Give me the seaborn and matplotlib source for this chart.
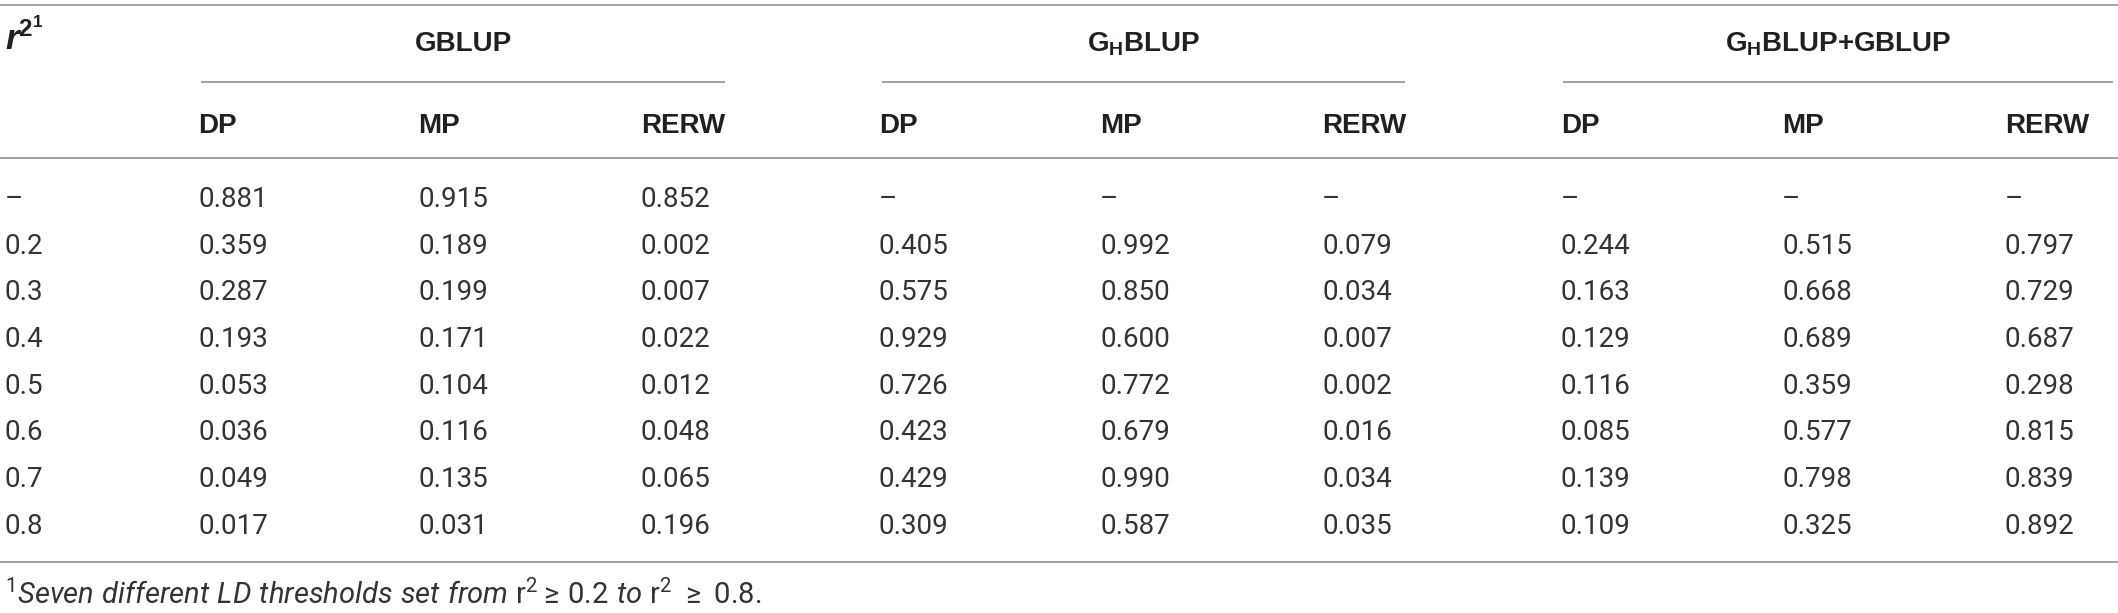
import numpy as np
import pandas as pd
import seaborn as sns
import matplotlib.pyplot as plt

# Table data: p-values per LD threshold (r^2), model and measure
thresholds = ['–', '0.2', '0.3', '0.4', '0.5', '0.6', '0.7', '0.8']
models = ['GBLUP', 'G$_\\mathbf{H}$BLUP', 'G$_\\mathbf{H}$BLUP+GBLUP']
measures = ['DP', 'MP', 'RERW']

gblup_dp = [0.881, 0.359, 0.287, 0.193, 0.053, 0.036, 0.049, 0.017]
gblup_mp = [0.915, 0.189, 0.199, 0.171, 0.104, 0.116, 0.135, 0.031]
gblup_rerw = [0.852, 0.002, 0.007, 0.022, 0.012, 0.048, 0.065, 0.196]
ghblup_dp = [np.nan, 0.405, 0.575, 0.929, 0.726, 0.423, 0.429, 0.309]
ghblup_mp = [np.nan, 0.992, 0.850, 0.600, 0.772, 0.679, 0.990, 0.587]
ghblup_rerw = [np.nan, 0.079, 0.034, 0.007, 0.002, 0.016, 0.034, 0.035]
combo_dp = [np.nan, 0.244, 0.163, 0.129, 0.116, 0.085, 0.139, 0.109]
combo_mp = [np.nan, 0.515, 0.668, 0.689, 0.359, 0.577, 0.798, 0.325]
combo_rerw = [np.nan, 0.797, 0.729, 0.687, 0.298, 0.815, 0.839, 0.892]

footnote = (r'$^{1}\mathit{Seven\ different\ LD\ thresholds\ set\ from}\ '
            r'\mathrm{r}^{2} \geq\, \mathrm{0.2}\ \mathit{to}\ '
            r'\mathrm{r}^{2}\ \geq\ \mathrm{0.8}\mathit{.}$')

table = pd.DataFrame(
    np.column_stack([gblup_dp, gblup_mp, gblup_rerw,
                     ghblup_dp, ghblup_mp, ghblup_rerw,
                     combo_dp, combo_mp, combo_rerw]),
    index=thresholds,
    columns=pd.MultiIndex.from_product([models, measures]))

# layout (pixels, y going down)
W, H = 2118, 613
col_x = [198, 418, 641, 879, 1100, 1322, 1561, 1782, 2005]
group_lines = [(201, 725), (882, 1405), (1563, 2113)]
row_y0, row_step = 197, 46.7
rule_color = '#9c9c9c'
text_color = '#231f20'
body_color = '#333333'

sns.set_theme(style='white')
plt.rcParams['font.family'] = ['Roboto', 'DejaVu Sans']
plt.rcParams['mathtext.fontset'] = 'custom'
plt.rcParams['mathtext.rm'] = 'Roboto'
plt.rcParams['mathtext.it'] = 'Roboto:italic'
plt.rcParams['mathtext.bf'] = 'Liberation Sans:bold'
plt.rcParams['mathtext.bfit'] = 'Liberation Sans:italic:bold'

fig = plt.figure(figsize=(W / 100, H / 100), dpi=100)
ax = fig.add_axes([0, 0, 1, 1])
ax.set_xlim(0, W)
ax.set_ylim(H, 0)
ax.axis('off')

head = dict(fontsize=20, fontweight='bold', family='Liberation Sans',
            color=text_color, va='baseline')
body = dict(fontsize=20, fontweight='normal', color=body_color, va='baseline')

# rules
ax.hlines([5, 158, 562], 0, W, color=rule_color, lw=1.3)
for x0, x1 in group_lines:
    ax.hlines(82, x0, x1, color=rule_color, lw=1.3)

# header
ax.text(5, 50, r'$\mathbfit{r}^{\mathbf{2}^{\mathbf{1}}}$',
        fontsize=25, color=text_color, va='baseline')
for (x0, x1), name in zip(group_lines, models):
    ax.text((x0 + x1) / 2, 51, name, ha='center', **head)
for i, (model, measure) in enumerate(table.columns):
    ax.text(col_x[i], 133, measure, **head)

# body
for r, label in enumerate(table.index):
    y = row_y0 + r * row_step + 10
    ax.text(5, y, label, **body)
    for i, col in enumerate(table.columns):
        v = table.loc[label, col]
        ax.text(col_x[i], y, '–' if np.isnan(v) else f'{v:.3f}', **body)

ax.text(5, 604, footnote, fontsize=21, color=body_color, va='baseline')

fig.savefig('out.png', dpi=100)
